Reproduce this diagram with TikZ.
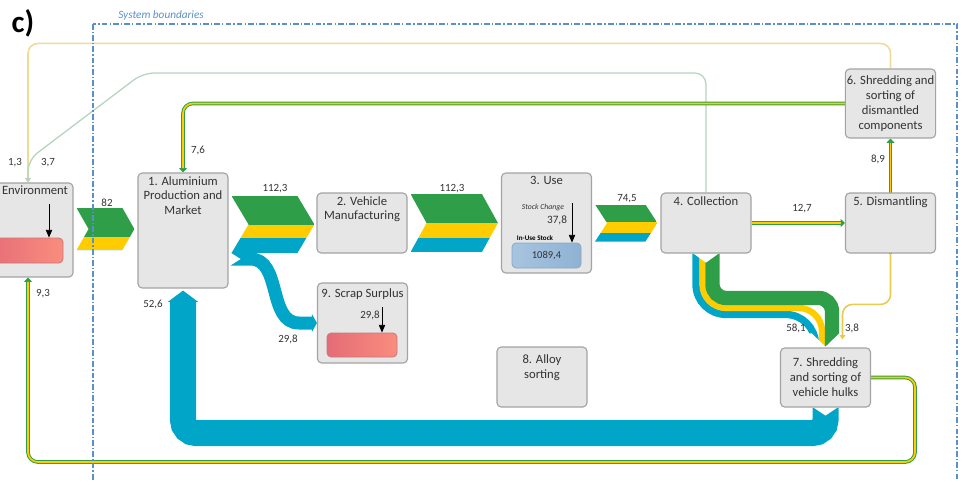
\documentclass[tikz,border=0pt]{standalone}
\usepackage{fontspec}
\setmainfont{Carlito}
\usetikzlibrary{arrows.meta,positioning,calc,backgrounds}
\definecolor{flowgreen}{HTML}{2E9E48}
\definecolor{flowyellow}{HTML}{FFCC00}
\definecolor{flowblue}{HTML}{00A5C8}
\definecolor{boxfill}{HTML}{E6E6E6}
\definecolor{boxline}{HTML}{A3A3A3}
\definecolor{txtgray}{HTML}{333333}
\definecolor{paleyellow}{HTML}{F0DB94}
\definecolor{midyellow}{HTML}{E8CB4E}
\definecolor{palegreen}{HTML}{B3D4BE}
\definecolor{sysblue}{HTML}{5B8FC7}
\definecolor{stockredl}{HTML}{E56C76}
\definecolor{stockredr}{HTML}{F98D7E}
\definecolor{stockrededge}{HTML}{C9767A}
\definecolor{stockbluel}{HTML}{A7C4DF}
\definecolor{stockbluer}{HTML}{8FB2D4}
\definecolor{stockblueedge}{HTML}{86A8C9}
\tikzset{
  box/.style      ={draw=boxline, fill=boxfill, rounded corners=3pt, line width=0.8pt, minimum width=22.5mm, minimum height=15mm, inner sep=0pt},
  boxtxt/.style   ={font=\fontsize{9}{10.6}\selectfont, text=txtgray, align=center, inner sep=1pt},
  lbl/.style      ={font=\fontsize{7.8}{9}\selectfont, text=txtgray, inner sep=0pt},
  redstock/.style ={draw=stockrededge, left color=stockredl, right color=stockredr, rounded corners=3pt, line width=0.6pt, inner sep=0pt},
  bluestock/.style={draw=stockblueedge, left color=stockbluel, right color=stockbluer, rounded corners=3pt, line width=0.6pt, inner sep=0pt, font=\fontsize{7.5}{9}\selectfont, text=txtgray},
  sarr/.style     ={-{Triangle[length=5.5pt,width=4.5pt]}, line width=0.6pt, black},
  dflow/.style    ={draw=flowgreen, line width=2.6pt, rounded corners=7pt, -{Triangle[length=3pt,width=5.5pt]},
                    postaction={draw=flowyellow, line width=1.2pt, arrows=-, shorten >=3pt}},
  ythin/.style    ={draw=paleyellow, line width=1.1pt, rounded corners=7pt, -{Triangle[length=3pt,width=4pt]}},
  gthin/.style    ={draw=palegreen, line width=0.9pt, rounded corners=8pt, -{Triangle[length=3pt,width=4pt]}},
  sysline/.style  ={draw=sysblue, line width=0.9pt, dash pattern=on 4pt off 1.5pt on 1pt off 1.5pt},
}
% chevron flow: tail, tip, half height, notch, green/yellow, yellow/blue
\newcommand\chevflow[6]{%
  \begin{scope}
    \clip ([shift={(0,-#3)}]#1) -- ([shift={(-#4,-#3)}]#2) -- (#2)
      -- ([shift={(-#4,#3)}]#2) -- ([shift={(0,#3)}]#1) -- ([shift={(#4,0)}]#1) -- cycle;
    \fill[flowgreen] ([shift={(0,-#3)}]#1) rectangle ([shift={(0,#5)}]#2);
    \fill[flowyellow] ([shift={(0,#5)}]#1) rectangle ([shift={(0,#6)}]#2);
    \fill[flowblue] ([shift={(0,#6)}]#1) rectangle ([shift={(0,#3)}]#2);
  \end{scope}}

\begin{document}
\begin{tikzpicture}[x=0.25mm, y=-0.25mm]
  \useasboundingbox (0,0) rectangle (962,481);
  \clip (0,0) rectangle (962,481);

  % processes
  \node[box, minimum height=23.5mm] (env) at (28,230) {};
  \node[boxtxt, anchor=north] (envtxt) at ([shift={(7,2)}]env.north) {Environment};
  \node[box, minimum height=28.75mm] (prod) at (183,230.5) {};
  \node[boxtxt, below=1.5pt of prod.north] (prodtxt) {1. Aluminium\\Production and\\Market};
  \node[box] (manuf) at (362,223) {};
  \node[boxtxt, below=1.5pt of manuf.north] (manuftxt) {2. Vehicle\\Manufacturing};
  \node[box, minimum height=25mm] (use) at (546.5,223) {};
  \node[boxtxt, below=1.5pt of use.north] (usetxt) {3. Use};
  \node[box] (coll) at (706,223) {};
  \node[boxtxt, below=1.5pt of coll.north] (colltxt) {4. Collection};
  \node[box] (dism) at (890.5,223) {};
  \node[boxtxt, below=1.5pt of dism.north] (dismtxt) {5. Dismantling};
  \node[box, boxtxt, minimum height=17.25mm] (shredcomp) at (890.5,103.5) {6. Shredding and\\sorting of\\dismantled\\components};
  \node[box, boxtxt, minimum height=14.75mm] (shredhulk) at (825.5,377.5) {7. Shredding\\and sorting of\\vehicle hulks};
  \node[box] (alloy) at (542,377) {};
  \node[boxtxt, below=5pt of alloy.north] (alloytxt) {8. Alloy\\sorting};
  \node[box, minimum height=20mm] (scrap) at (362.5,323) {};
  \node[boxtxt, below=3pt of scrap.north] (scraptxt) {9. Scrap Surplus};

  % stocks
  \node[redstock, minimum width=19.5mm, minimum height=6.25mm] (envstock) at (24,250.5) {};
  \node[redstock, minimum width=17.5mm, minimum height=6mm] (scrapstock) at (362,345) {};
  \node[bluestock, minimum width=17.25mm, minimum height=6.25mm] (usestock) at (546.5,255.5) {1089,4};
  \node[font=\fontsize{5.5}{6}\selectfont\itshape, text=txtgray, inner sep=0pt] (stockchg) at (543,207) {Stock Change};
  \node[font=\fontsize{8}{9}\selectfont, text=txtgray, inner sep=0pt] (l378) at (557,220) {37,8};
  \node[font=\fontsize{5}{6}\selectfont\bfseries, inner sep=0pt] (inuse) at (535,238) {In-Use Stock};
  \node[lbl] (l298s) at (370,315) {29,8};
  \coordinate (envin) at (49,204);
  \coordinate (scrapin) at (382,307);
  \coordinate (usein) at (572,203);
  \draw[sarr] (envin) -- (envin |- envstock.north);
  \draw[sarr] (scrapin) -- (scrapin |- scrapstock.north);
  \draw[sarr] (usein) -- (usein |- usestock.north);

  % flows
  \begin{scope}[on background layer]
    \coordinate (ch1a) at ([shift={(3,-1)}]env.east);
    \coordinate (ch1b) at ([shift={(-3,-1.5)}]prod.west);
    \coordinate (ch2a) at ([shift={(3,-6)}]prod.east);
    \coordinate (ch2b) at ([shift={(-2,1.5)}]manuf.west);
    \coordinate (ch3a) at ([shift={(3,0)}]manuf.east);
    \coordinate (ch3b) at ([shift={(-3,0)}]use.west);
    \coordinate (ch4a) at ([shift={(3,0)}]use.east);
    \coordinate (ch4b) at ([shift={(-3,0)}]coll.west);
    \chevflow{ch1a}{ch1b}{21}{12}{8}{21}
    \chevflow{ch2a}{ch2b}{28.5}{17}{0}{13.5}
    \chevflow{ch3a}{ch3b}{29}{16}{0}{15}
    \chevflow{ch4a}{ch4b}{18.5}{12}{-1}{10}

    % collection -> hulk shredding
    \begin{scope}
      \clip ([shift={(-160,-110)}]shredhulk.north) -- ([shift={(20,-110)}]shredhulk.north)
        -- ([shift={(20,-14)}]shredhulk.north) -- ([shift={(13.5,-14)}]shredhulk.north)
        -- ([shift={(0,-1)}]shredhulk.north) -- ([shift={(-13.5,-14)}]shredhulk.north)
        -- ([shift={(-160,-14)}]shredhulk.north) -- cycle;
      \draw[flowblue, line width=5.2pt] ([shift={(-10,0)}]coll.south) [rounded corners=21.3pt]
        |- ([shift={(-10,-33)}]shredhulk.north) [rounded corners=3.6pt] -- ([shift={(-10,0)}]shredhulk.north);
      \draw[flowyellow, line width=4.5pt] ([shift={(-3.5,0)}]coll.south) [rounded corners=16.7pt]
        |- ([shift={(-3.5,-39.5)}]shredhulk.north) [rounded corners=8.2pt] -- ([shift={(-3.5,0)}]shredhulk.north);
      \draw[flowgreen, line width=10.2pt] ([shift={(6.5,0)}]coll.south) [rounded corners=9.6pt]
        |- ([shift={(6.5,-49.5)}]shredhulk.north) [rounded corners=15.3pt] -- ([shift={(6.5,0)}]shredhulk.north);
    \end{scope}
    \fill[white] ([shift={(-14,-1)}]coll.south) -- ([shift={(0,9)}]coll.south) -- ([shift={(14,-1)}]coll.south) -- cycle;

    % hulk shredding -> production
    \draw[flowblue, line width=18.5pt, rounded corners=9.2pt, -{Triangle[length=8pt,width=21pt]}]
      (shredhulk.south) |- ([shift={(0,144.5)}]prod.south) -- ([shift={(0,2)}]prod.south);
    \fill[white] ([shift={(-13.5,-1)}]shredhulk.south) -- ([shift={(0,8)}]shredhulk.south) -- ([shift={(13.5,-1)}]shredhulk.south) -- cycle;

    % production -> scrap surplus
    \draw[flowblue, line width=9.25pt, -{Triangle[length=3.6pt,width=12.8pt]}]
      ([shift={(2,28.5)}]prod.east) -- ++(20,0) to[out=0,in=180] ([shift={(-18,0)}]scrap.west) -- (scrap.west);
    \fill[white] ([shift={(1,21.5)}]prod.east) -- ([shift={(12,28.5)}]prod.east) -- ([shift={(1,35.5)}]prod.east) -- cycle;

    % thin flows
    \coordinate (gk1) at (143,73);
    \coordinate (gk2) at (28,160);
    \coordinate (loopse) at (915,462);
    \draw[ythin] (shredcomp.north) -- ++(0,-25) -| (env.north);
    \draw[gthin] (coll.north) |- (gk1) -- (gk2) -- (env.north);
    \draw[dflow] (shredcomp.west) -| (prod.north);
    \draw[dflow] (coll.east) -- (dism.west);
    \draw[dflow] (dism.south) -- (shredcomp.south);
    \draw[dflow] (shredhulk.east) -| (loopse) -| (env.south);
    \draw[ythin, draw=midyellow] (dism.south) |- ([shift={(17,-43)}]shredhulk.north) -- ([shift={(17,-8)}]shredhulk.north);
  \end{scope}

  % flow values
  \node[lbl] (l82) at (107,203) {82};
  \node[lbl] (l112a) at (275,189) {112,3};
  \node[lbl] (l112b) at (452,189) {112,3};
  \node[lbl] (l745) at (627,199) {74,5};
  \node[lbl] (l127) at (802,209) {12,7};
  \node[lbl] (l89) at (878,159) {8,9};
  \node[lbl] (l76) at (198,150) {7,6};
  \node[lbl] (l13) at (15,163) {1,3};
  \node[lbl] (l37) at (48,163) {3,7};
  \node[lbl] (l93) at (43,294) {9,3};
  \node[lbl] (l526) at (153,304) {52,6};
  \node[lbl] (l298) at (288,339) {29,8};
  \node[lbl] (l581) at (796,328) {58,1};
  \node[lbl] (l38) at (852,328) {3,8};

  % system boundary
  \draw[sysline] (93,24) rectangle (957,500);
  \node[font=\fontsize{8}{9}\selectfont\itshape, text=sysblue, anchor=west, inner sep=0pt] (syslbl) at (118,15) {System boundaries};
  \node[font=\fontsize{22}{22}\selectfont\bfseries, inner sep=0pt] (title) at (23,23) {c)};
\end{tikzpicture}
\end{document}
